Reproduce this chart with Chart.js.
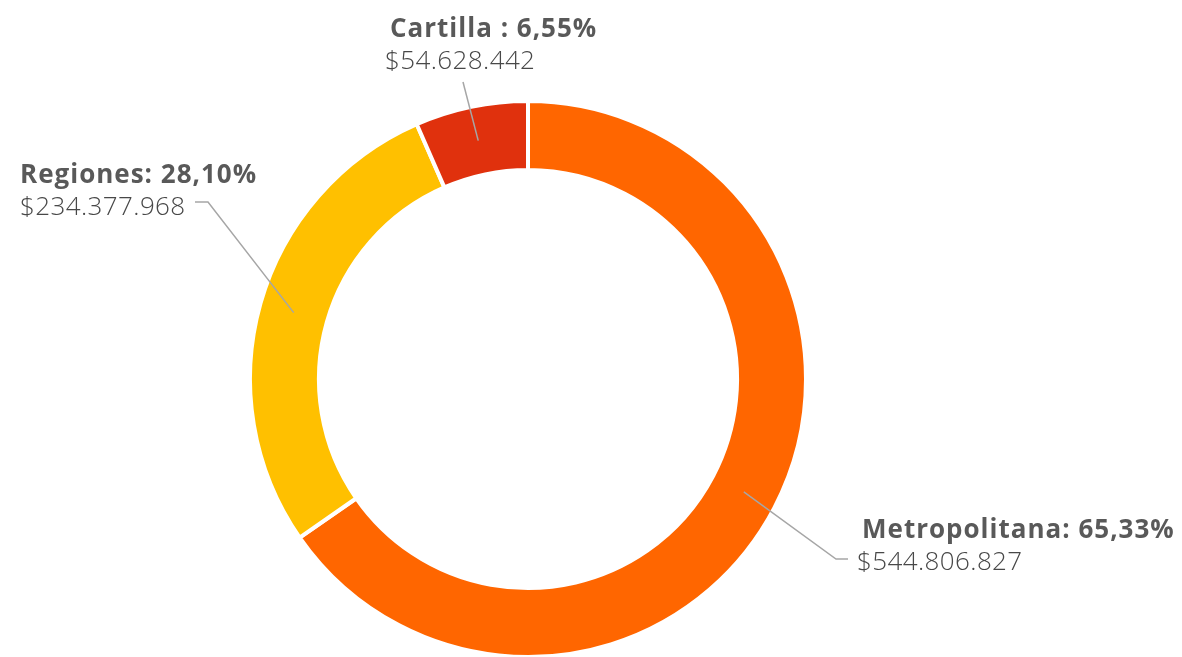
<!DOCTYPE html>
<html lang="es">
<head>
<meta charset="utf-8">
<title>Distribución por zona</title>
<script src="https://cdn.jsdelivr.net/npm/chart.js@4/dist/chart.umd.min.js"></script>
<style>
    html, body { margin: 0; padding: 0; background: #fff; overflow: hidden; }
    #wrap { width: 1182px; height: 657px; overflow: hidden; }
</style>
</head>
<body>
<div id="wrap"><canvas id="donut" width="1182" height="680"></canvas></div>
<script>
// datos del gráfico
const categorias = ['Metropolitana', 'Regiones', 'Cartilla'];
const montos = [544806827, 234377968, 54628442];
const porcentajes = ['65,33%', '28,10%', '6,55%'];
const separadores = [': ', ': ', ' : '];
const colores = ['#FF6600', '#FFC000', '#E0310D'];

// posición de las etiquetas (relativa al centro del anillo)
const etiquetas = [
    { codo: [308, 180], cola: 12, titulo: [14, -21], monto: [9, 11] },
    { codo: [-320, -177], cola: -13, titulo: [-175, -19], monto: [-175, 13] },
    { codo: [-65, -297], cola: 0, titulo: [-73, -45], monto: [-78, -13] }
];

// formato $544.806.827
function formatoMonto(v) {
    return '$' + String(v).replace(/\B(?=(\d{3})+(?!\d))/g, '.');
}

// dibuja las líneas guía y los textos
const etiquetasPlugin = {
    id: 'etiquetas',
    afterDatasetsDraw(chart) {
        const ctx = chart.ctx;
        const arcs = chart.getDatasetMeta(0).data;
        ctx.save();
        arcs.forEach((arc, i) => {
            const cfg = etiquetas[i];
            const p = arc.tooltipPosition();
            const cx = arc.x, cy = arc.y;
            const ex = cx + cfg.codo[0], ey = cy + cfg.codo[1];
            const tx = ex + cfg.cola;

            ctx.strokeStyle = '#a6a6a6';
            ctx.lineWidth = 1.5;
            ctx.beginPath();
            ctx.moveTo(p.x, p.y);
            ctx.lineTo(ex, ey);
            if (cfg.cola) ctx.lineTo(tx, ey);
            ctx.stroke();

            ctx.textAlign = 'left';
            ctx.textBaseline = 'alphabetic';
            ctx.fillStyle = '#595959';
            ctx.font = 'bold 26px "Open Sans", sans-serif';
            ctx.letterSpacing = '1px';
            ctx.fillText(categorias[i] + separadores[i] + porcentajes[i], tx + cfg.titulo[0], ey + cfg.titulo[1]);

            ctx.fillStyle = '#484848';
            ctx.font = '300 26px "Open Sans", sans-serif';
            ctx.letterSpacing = '0.4px';
            ctx.fillText(formatoMonto(montos[i]), tx + cfg.monto[0], ey + cfg.monto[1]);
        });
        ctx.restore();
    }
};

const chart = new Chart(document.getElementById('donut'), {
    type: 'doughnut',
    data: {
        labels: categorias,
        datasets: [{
            data: montos,
            backgroundColor: colores,
            borderColor: '#ffffff',
            borderWidth: 4
        }]
    },
    options: {
        responsive: false,
        animation: false,
        cutout: '75.2%',
        layout: {
            padding: { left: 248, right: 374, top: 99, bottom: 21 }
        },
        plugins: {
            legend: { display: false },
            tooltip: { enabled: false }
        }
    },
    plugins: [etiquetasPlugin]
});
</script>
</body>
</html>
